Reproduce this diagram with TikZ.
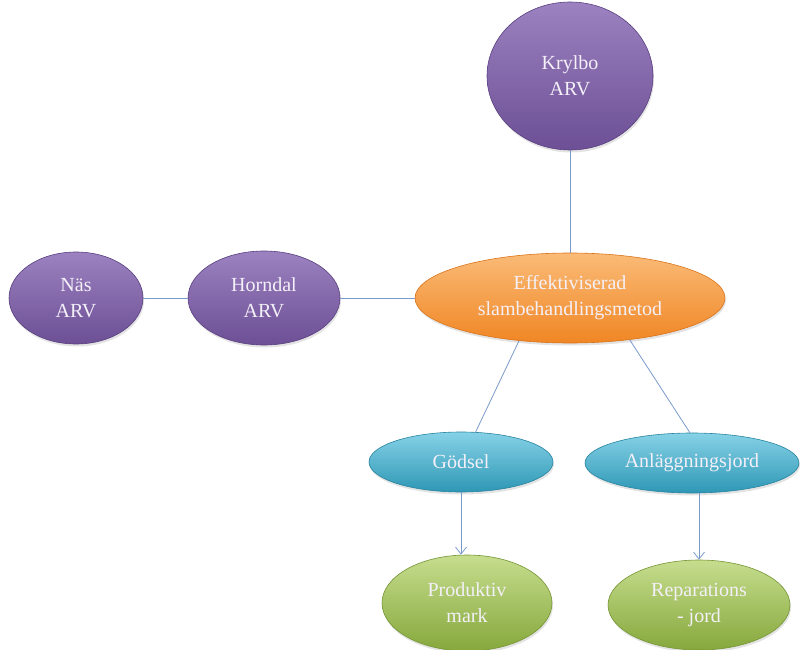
\documentclass[tikz,border=0pt]{standalone}
\usepackage{fontspec}
\setmainfont{Liberation Serif}
\newfontfamily\blobfont{Liberation Serif}
\usetikzlibrary{shapes.geometric,arrows.meta,shadows}
\definecolor{purpT}{HTML}{9C82C0}
\definecolor{purpB}{HTML}{6C4F95}
\definecolor{purpD}{HTML}{5A3F80}
\definecolor{oranT}{HTML}{FABB77}
\definecolor{oranB}{HTML}{F08624}
\definecolor{oranD}{HTML}{D9731A}
\definecolor{cyanT}{HTML}{86D2E6}
\definecolor{cyanB}{HTML}{2E97B5}
\definecolor{cyanD}{HTML}{2784A0}
\definecolor{grnT}{HTML}{C6DD8E}
\definecolor{grnB}{HTML}{86A83C}
\definecolor{grnD}{HTML}{749533}
\definecolor{linkc}{HTML}{7A9ACB}
\definecolor{txtc}{HTML}{F4F0F8}
\tikzset{
  blob/.style={ellipse, inner sep=0pt, align=center, text=txtc,
    font=\blobfont\fontsize{20}{26}\selectfont, line width=0.6pt,
    drop shadow={opacity=0.22, shadow xshift=1pt, shadow yshift=-2.5pt}},
  purpblob/.style={blob, top color=purpT, bottom color=purpB, draw=purpD},
  oranblob/.style={blob, top color=oranT, bottom color=oranB, draw=oranD},
  cyanblob/.style={blob, top color=cyanT, bottom color=cyanB, draw=cyanD},
  grnblob/.style={blob, top color=grnT, bottom color=grnB, draw=grnD},
  link/.style={draw=linkc, line width=0.8pt},
  arr/.style={link, -{Straight Barb[length=7pt,width=11pt,line width=0.8pt]}}
}
\begin{document}
\begin{tikzpicture}[x=1pt,y=-1pt]
\useasboundingbox (0,0) rectangle (803,650);
\node[purpblob, minimum width=166pt, minimum height=148pt] (kr) at (570,76) {Krylbo\\ARV};
\node[oranblob, minimum width=310pt, minimum height=90pt] (ef) at (570,298) {Effektiviserad\\slambehandlingsmetod};
\node[purpblob, minimum width=152pt, minimum height=94pt] (ho) at (264,298) {Horndal\\ARV};
\node[purpblob, minimum width=134pt, minimum height=92pt] (na) at (76,298) {Näs\\ARV};
\node[cyanblob, minimum width=184pt, minimum height=60pt] (go) at (461,462) {Gödsel};
\node[cyanblob, minimum width=214pt, minimum height=60pt] (an) at (692,463) {Anläggningsjord};
\node[grnblob, minimum width=170pt, minimum height=96pt] (pr) at (467,603) {Produktiv\\mark};
\node[grnblob, minimum width=182pt, minimum height=90pt] (re) at (699,605) {Reparations\\- jord};
\draw[link] (kr.south) -- (ef.north);
\draw[link] (na.east) -- (ho.west);
\draw[link] (ho.east) -- (ef.west);
\draw[link] (ef.220.7) -- (go.64);
\draw[link] (ef.325.7) -- (an.94);
\draw[arr] (go.south) -- (go.south |- pr.north);
\draw[arr] (an.south -| re.north) -- (re.north);
\end{tikzpicture}
\end{document}
